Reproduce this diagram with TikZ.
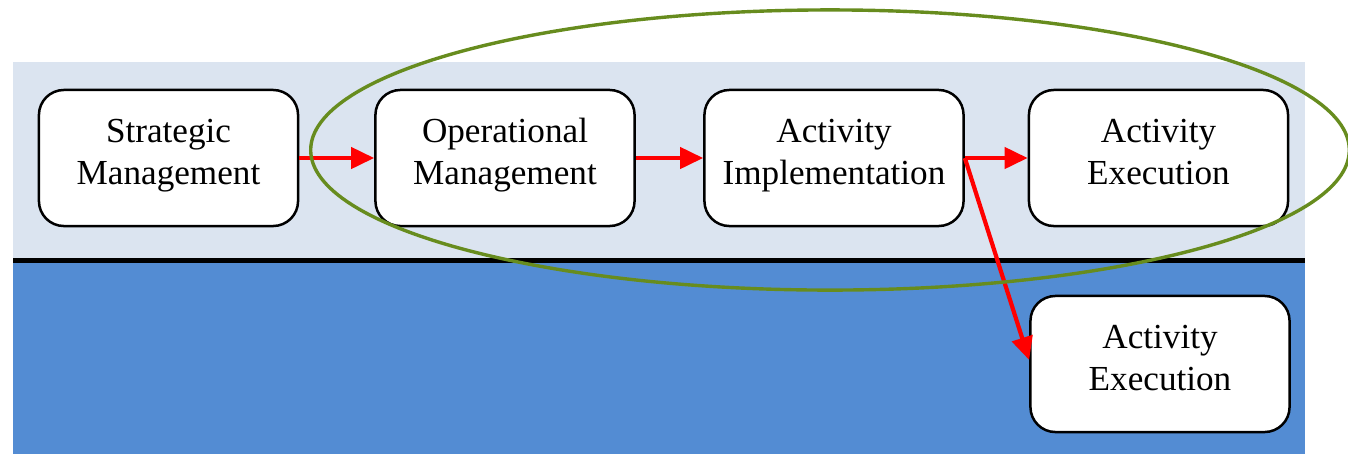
\documentclass[tikz,border=0pt]{standalone}
\usepackage{fontspec}
\setmainfont{Liberation Serif}
\usetikzlibrary{arrows.meta}
\definecolor{lightband}{RGB}{219,228,240}
\definecolor{darkband}{RGB}{83,140,211}
\definecolor{ellgreen}{RGB}{103,140,30}
\definecolor{arrred}{RGB}{255,0,0}
\tikzset{
  procbox/.style={draw=black, line width=0.025cm, fill=white, rounded corners=0.25cm,
    minimum width=2.59cm, minimum height=1.36cm, inner sep=0pt, align=center,
    font=\fontsize{10pt}{12pt}\selectfont,
    execute at begin node=\strut, execute at end node=\strut},
  flow/.style={draw=arrred, line width=0.042cm, -{Triangle[length=0.23cm,width=0.21cm]}}
}
\begin{document}
\begin{tikzpicture}[x=0.01cm,y=-0.01cm]
\useasboundingbox (0,0) rectangle (1348,454);
% bands
\fill[lightband] (13,62) rectangle (1305,260);
\fill[darkband] (13,260) rectangle (1305,454);
\draw[black, line width=0.045cm] (13,260.5) -- (1305,260.5);
% boxes
\node[procbox] (sm) at (168.5,158) {Strategic\\Management};
\node[procbox] (om) at (505,158) {Operational\\Management};
\node[procbox] (ai) at (834,158) {Activity\\Implementation};
\node[procbox] (ae1) at (1158.5,158) {Activity\\Execution};
\node[procbox] (ae2) at (1160,364) {Activity\\Execution};
% connectors
\draw[flow] (sm.east) -- (om.west);
\draw[flow] (om.east) -- (ai.west);
\draw[flow] (ai.east) -- (ae1.west);
\draw[flow] (ai.east) -- ([yshift=0.04cm]ae2.west);
% ellipse
\draw[ellgreen, line width=0.034cm] (830,150) ellipse [x radius=5.19cm, y radius=1.40cm];
\end{tikzpicture}
\end{document}
